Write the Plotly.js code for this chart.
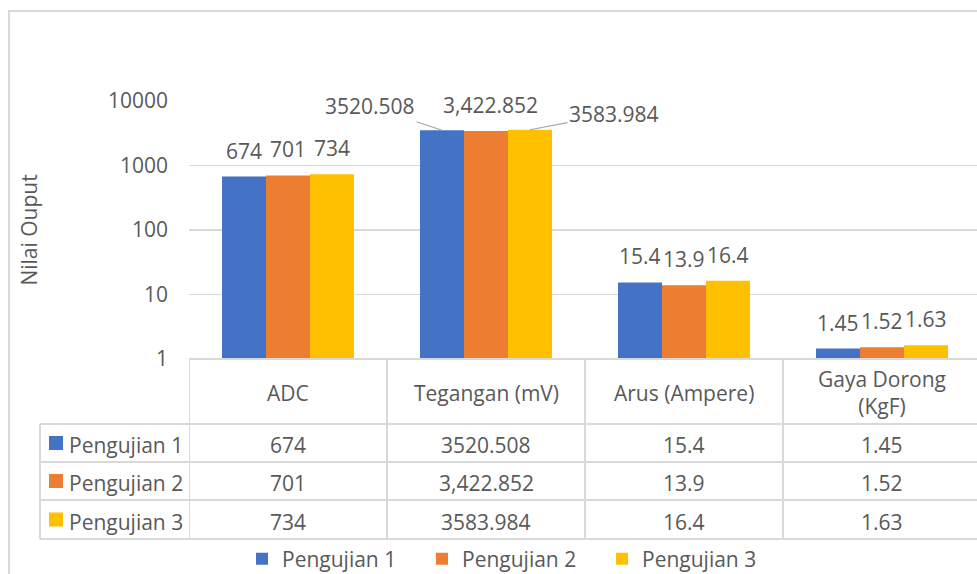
<!DOCTYPE html>
<html>
<head>
<meta charset="utf-8">
<script src="https://cdn.plot.ly/plotly-3.0.1.min.js"></script>
<style>
  html, body { margin: 0; padding: 0; background: #fff; }
  #wrap { position: relative; width: 977px; height: 574px; overflow: hidden; }
  #chart { position: absolute; left: 0; top: 0; width: 977px; height: 620px; }
  #frame { position: absolute; left: 8px; top: 10px; width: 1200px; height: 800px;
           border-left: 2px solid #d9d9d9; border-top: 2px solid #d9d9d9; pointer-events: none; }
</style>
</head>
<body>
<div id="wrap"><div id="chart"></div><div id="frame"></div></div>
<script>
// ---- data ----
const categories = ['ADC', 'Tegangan (mV)', 'Arus (Ampere)', 'Gaya Dorong (KgF)'];
const headerLabels = ['ADC', 'Tegangan (mV)', 'Arus (Ampere)', 'Gaya Dorong<br>(KgF)'];
const seriesNames = ['Pengujian 1', 'Pengujian 2', 'Pengujian 3'];
const pengujian1 = [674, 3520.508, 15.4, 1.45];
const pengujian2 = [701, 3422.852, 13.9, 1.52];
const pengujian3 = [734, 3583.984, 16.4, 1.63];
const labels1 = ['674', '3520.508', '15.4', '1.45'];
const labels2 = ['701', '3,422.852', '13.9', '1.52'];
const labels3 = ['734', '3583.984', '16.4', '1.63'];
const yTickVals = [1, 10, 100, 1000, 10000];
const yTitle = 'Nilai Ouput';

// ---- style ----
const colors = ['#4472C4', '#ED7D31', '#FFC000'];
const textColor = '#595959';
const lineColor = '#d9d9d9';
const FONT = 'Open Sans, Noto Sans, sans-serif';
const FS = 21;

const series = [pengujian1, pengujian2, pengujian3];
const seriesLabels = [labels1, labels2, labels3];

// the plot div is taller than the visible 574px window so the legend never pushes margins
const W = 977, H = 620;
const PLOT_BOTTOM = 359;
const M = {l: 189, r: 0, t: 101, b: H - PLOT_BOTTOM};
const PW = W - M.l - M.r, PH = H - M.t - M.b;
const py = px => (M.t + PH - px) / PH;      // pixel y -> paper y
const pxx = px => (px - M.l) / PW;          // pixel x -> paper x

const BARGAP = 1 / 3;
const barW = (1 - BARGAP) / series.length;
const offsetOf = j => (j - (series.length - 1) / 2) * barW;

const traces = series.map((vals, j) => ({
  type: 'bar',
  name: seriesNames[j],
  x: categories.map((c, i) => i),
  y: vals,
  marker: {color: colors[j]},
  hoverinfo: 'skip'
}));

const annotations = [];
const shapes = [];

// data labels; the crowded category (index 1) uses leader lines
const special = {
  '1-0': {ax: -72, ay: -24, arrow: true},
  '1-1': {dx: 4, dy: 26, arrow: false},
  '1-2': {ax: 84, ay: -16, arrow: true}
};
series.forEach((vals, j) => {
  vals.forEach((v, i) => {
    const key = i + '-' + j;
    const base = {
      xref: 'x', yref: 'y', x: i + offsetOf(j), y: Math.log10(v),
      text: seriesLabels[j][i],
      font: {family: FONT, size: FS, color: textColor}
    };
    const sp = special[key];
    if (sp && sp.arrow) {
      annotations.push(Object.assign(base, {
        showarrow: true, arrowhead: 0, arrowwidth: 1.2, arrowcolor: '#a6a6a6',
        axref: 'pixel', ayref: 'pixel', ax: sp.ax, ay: sp.ay, standoff: 0
      }));
    } else if (sp) {
      annotations.push(Object.assign(base, {
        showarrow: false, yanchor: 'middle', xshift: sp.dx, yshift: sp.dy
      }));
    } else {
      annotations.push(Object.assign(base, {
        showarrow: false, yanchor: 'middle', yshift: 26
      }));
    }
  });
});

// ---- data table ----
const tableTop = PLOT_BOTTOM;
const headerBottom = 424;
const rowBottoms = [462, 500, 539];
const rowTops = [headerBottom, 462, 500];
const leftColX = 40;
const lineStyle = {color: lineColor, width: 2};

shapes.push({type: 'line', xref: 'paper', yref: 'paper', x0: 0, x1: 1.01, y0: 0, y1: 0, line: lineStyle});
for (let k = 0; k < categories.length; k++) {
  shapes.push({type: 'line', xref: 'x', yref: 'paper', x0: k - 0.5, x1: k - 0.5,
    y0: 0, y1: py(rowBottoms[rowBottoms.length - 1]), line: lineStyle});
}
shapes.push({type: 'line', xref: 'paper', yref: 'paper', x0: pxx(leftColX), x1: pxx(leftColX),
  y0: py(headerBottom), y1: py(rowBottoms[rowBottoms.length - 1]), line: lineStyle});
[headerBottom].concat(rowBottoms).forEach(yy => {
  shapes.push({type: 'line', xref: 'paper', yref: 'paper', x0: pxx(leftColX), x1: 1.01,
    y0: py(yy), y1: py(yy), line: lineStyle});
});
headerLabels.forEach((h, i) => {
  annotations.push({xref: 'x', yref: 'paper', x: i, y: py((tableTop + headerBottom) / 2 + 1),
    text: h, showarrow: false, yanchor: 'middle', xanchor: 'center',
    font: {family: FONT, size: FS, color: textColor}});
});
series.forEach((vals, j) => {
  const cy = (rowTops[j] + rowBottoms[j]) / 2;
  shapes.push({type: 'rect', xref: 'paper', yref: 'paper',
    x0: pxx(49), x1: pxx(63), y0: py(cy + 7), y1: py(cy - 7),
    fillcolor: colors[j], line: {width: 0}});
  annotations.push({xref: 'paper', yref: 'paper', x: pxx(67), y: py(cy + 2),
    text: seriesNames[j], showarrow: false, xanchor: 'left', yanchor: 'middle',
    font: {family: FONT, size: FS, color: textColor}});
  vals.forEach((v, i) => {
    annotations.push({xref: 'x', yref: 'paper', x: i, y: py(cy + 2),
      text: seriesLabels[j][i], showarrow: false, xanchor: 'center', yanchor: 'middle',
      font: {family: FONT, size: FS, color: textColor}});
  });
});

const layout = {
  width: W, height: H,
  margin: M,
  paper_bgcolor: 'rgba(0,0,0,0)', plot_bgcolor: 'rgba(0,0,0,0)',
  font: {family: FONT, size: FS, color: textColor},
  barmode: 'group', bargap: BARGAP, bargroupgap: 0,
  xaxis: {
    type: 'linear', range: [-0.5, -0.5 + PW / 198],
    showticklabels: false, showgrid: false, zeroline: false, showline: false, ticks: ''
  },
  yaxis: {
    type: 'log', range: [0, 4], tickvals: yTickVals, tickformat: 'd',
    showgrid: true, gridcolor: lineColor, gridwidth: 1.5, zeroline: false, showline: false,
    ticks: '', ticklabelstandoff: 20,
    tickfont: {family: FONT, size: FS, color: textColor},
    title: {text: yTitle, standoff: 64, font: {family: FONT, size: FS, color: textColor}}
  },
  showlegend: true,
  legend: {
    orientation: 'h', x: pxx(242), xanchor: 'left', y: py(559), yanchor: 'middle',
    entrywidth: 135, entrywidthmode: 'pixels',
    font: {family: FONT, size: FS, color: textColor}, bgcolor: 'rgba(0,0,0,0)'
  },
  annotations: annotations,
  shapes: shapes
};

Plotly.newPlot('chart', traces, layout, {displayModeBar: false, staticPlot: true});
</script>
</body>
</html>
